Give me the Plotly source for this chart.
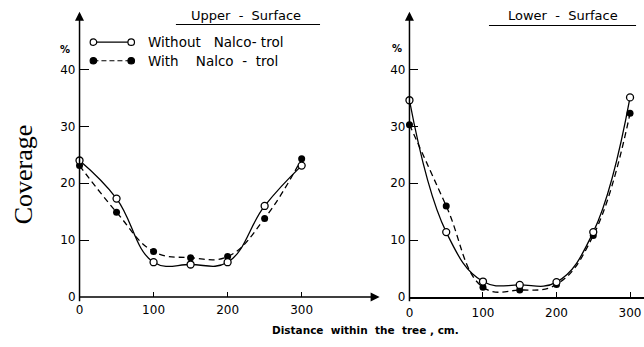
import plotly.graph_objects as go

W, H = 644, 347

distance = [0, 50, 100, 150, 200, 250, 300]
upper_without = [24.0, 17.3, 6.1, 5.7, 6.1, 16.0, 23.1]
upper_with = [23.1, 14.9, 8.0, 6.9, 7.1, 13.8, 24.3]
lower_without = [34.6, 11.4, 2.7, 2.1, 2.6, 11.4, 35.1]
lower_with = [30.3, 16.0, 1.7, 1.2, 2.2, 10.8, 32.3]

xticks = [0, 100, 200, 300]
yticks = [0, 10, 20, 30, 40]
ytick_text = ["0", "10", "20", "30", "40"]

FONT = "DejaVu Sans"


def px(x):
    return x / W


def py(y):
    return 1 - y / H


fig = go.Figure()

for xa, ya, yw, yn in [("x", "y", upper_without, upper_with), ("x2", "y2", lower_without, lower_with)]:
    fig.add_trace(go.Scatter(x=distance, y=yw, mode="lines", line=dict(color="black", width=1.3, shape="spline", smoothing=1.2),
                             xaxis=xa, yaxis=ya, showlegend=False, hoverinfo="skip", cliponaxis=False))
    fig.add_trace(go.Scatter(x=distance, y=yn, mode="lines", line=dict(color="black", width=1.3, dash="6px,4px", shape="spline", smoothing=1.2),
                             xaxis=xa, yaxis=ya, showlegend=False, hoverinfo="skip", cliponaxis=False))
    fig.add_trace(go.Scatter(x=distance, y=yn, mode="markers", marker=dict(symbol="circle", size=7, color="black"),
                             xaxis=xa, yaxis=ya, showlegend=False, cliponaxis=False))
    fig.add_trace(go.Scatter(x=distance, y=yw, mode="markers", marker=dict(symbol="circle", size=7, color="white", line=dict(color="black", width=1.3)),
                             xaxis=xa, yaxis=ya, showlegend=False, cliponaxis=False))

ydom = [44 / H, (H - 13) / H]
tickfont = dict(family=FONT, size=12, color="black")
axis_common = dict(showgrid=False, zeroline=False, showline=False, ticks="inside", tickcolor="black",
                   tickfont=tickfont)

fig.update_layout(
    width=W, height=H, margin=dict(l=0, r=0, t=0, b=0),
    paper_bgcolor="white", plot_bgcolor="white",
    xaxis=dict(domain=[px(76), px(377)], range=[0, 404], tickvals=xticks, ticklen=5, anchor="y",
               ticklabelstandoff=4, **axis_common),
    yaxis=dict(domain=ydom, range=[0, 50], tickvals=yticks, ticktext=ytick_text, ticklen=9, anchor="x",
               ticklabelstandoff=3, **axis_common),
    xaxis2=dict(domain=[px(408), 1.0], range=[0, 319], tickvals=xticks, ticklen=5, anchor="y2",
                ticklabelstandoff=4, **axis_common),
    yaxis2=dict(domain=ydom, range=[0, 50], tickvals=yticks, ticktext=ytick_text, ticklen=9, anchor="x2",
                ticklabelstandoff=3, **axis_common),
)
fig.update_layout(xaxis2=dict(showline=True, linecolor="black", linewidth=1.5))

annotations = []
# axis arrows
annotations.append(dict(x=px(76), y=py(12), xref="paper", yref="paper", ax=0, ay=291, axref="pixel", ayref="pixel",
                        text="", showarrow=True, arrowhead=2, arrowsize=1.2, arrowwidth=1.5, arrowcolor="black"))
annotations.append(dict(x=px(408), y=py(12), xref="paper", yref="paper", ax=0, ay=291, axref="pixel", ayref="pixel",
                        text="", showarrow=True, arrowhead=2, arrowsize=1.2, arrowwidth=1.5, arrowcolor="black"))
annotations.append(dict(x=px(378), y=py(303), xref="paper", yref="paper", ax=-302, ay=0, axref="pixel", ayref="pixel",
                        text="", showarrow=True, arrowhead=2, arrowsize=1.2, arrowwidth=1.5, arrowcolor="black"))

titlefont = dict(family=FONT, size=13, color="black")
legendfont = dict(family=FONT, size=13.5, color="black")


def txt(x, y, text, font, xanchor="center", **kw):
    d = dict(x=px(x), y=py(y), xref="paper", yref="paper", text=text, showarrow=False,
             xanchor=xanchor, yanchor="middle", font=font)
    d.update(kw)
    return d


annotations.append(txt(244, 16, "Upper  -  Surface", titlefont))
annotations.append(txt(562, 16, "Lower  -  Surface", titlefont))
annotations.append(txt(143, 43, "Without   Nalco- trol", legendfont, xanchor="left"))
annotations.append(txt(143, 62, "With    Nalco  -  trol", legendfont, xanchor="left"))
annotations.append(txt(61, 51, "<b>%</b>", dict(family=FONT, size=10, color="black")))
annotations.append(txt(395, 49, "<b>%</b>", dict(family=FONT, size=10, color="black")))
annotations.append(txt(20, 178, "Coverage", dict(family="Liberation Serif", size=26, color="black"), textangle=-90))
annotations.append(txt(364, 337, "<b>Distance  within  the  tree , cm.</b>", dict(family=FONT, size=10.5, color="black")))
fig.update_layout(annotations=annotations)

shapes = []
shapes.append(dict(type="line", xref="paper", yref="paper", x0=px(173), x1=px(318), y0=py(25), y1=py(25), line=dict(color="black", width=1.2)))
shapes.append(dict(type="line", xref="paper", yref="paper", x0=px(488), x1=px(636), y0=py(26), y1=py(26), line=dict(color="black", width=1.2)))
# legend samples
shapes.append(dict(type="line", xref="paper", yref="paper", x0=px(90), x1=px(128), y0=py(43), y1=py(43), line=dict(color="black", width=1.2)))
shapes.append(dict(type="line", xref="paper", yref="paper", x0=px(90), x1=px(128), y0=py(62), y1=py(62), line=dict(color="black", width=1.2, dash="5px,3px")))
for cx, cy, fill in [(90, 43, "white"), (128, 43, "white"), (90, 62, "black"), (128, 62, "black")]:
    shapes.append(dict(type="circle", xref="paper", yref="paper", x0=px(cx - 3.3), x1=px(cx + 3.3), y0=py(cy + 3.3), y1=py(cy - 3.3),
                       fillcolor=fill, line=dict(color="black", width=1.2)))
fig.update_layout(shapes=shapes)

fig.write_html("out.html")
